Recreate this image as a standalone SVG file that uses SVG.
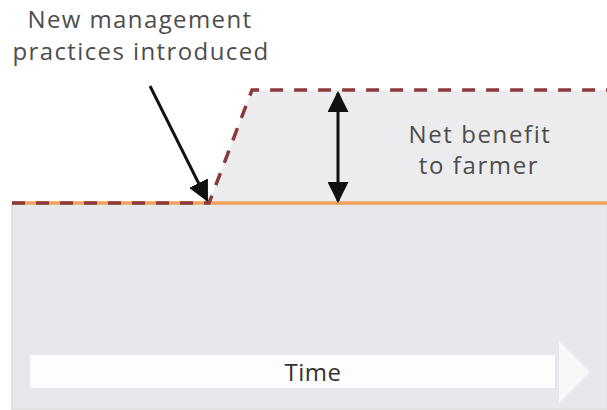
<svg xmlns="http://www.w3.org/2000/svg" width="607" height="410" viewBox="0 0 607 410">
<defs>
<style>
.lbl{font-family:"Open Sans","Liberation Sans",sans-serif;font-size:24px;fill:#4d4d4d;text-anchor:middle;letter-spacing:1.4px}
.blk{stroke:#111;stroke-width:3;fill:none}
</style>
<marker id="ah" viewBox="0 0 10 10" refX="9" refY="5" markerWidth="7" markerHeight="7" orient="auto-start-reverse"><path d="M0,0L10,5L0,10z" fill="#111"/></marker>
</defs>
<rect width="607" height="410" fill="#fff"/>
<g id="base"><rect x="12" y="204" width="595" height="205" fill="#e8e8ec" stroke="#e2e2e4" stroke-width="2"/></g>
<g id="benefit-area"><polygon points="209,204 252,90 607,90 607,204" fill="#ececee"/></g>
<g id="time-arrow">
<rect x="30" y="355" width="525" height="33" fill="#fdfdfd"/>
<polygon points="559,341 590,372 559,403" fill="#f7f7f7"/>
<text class="lbl" x="313" y="381" style="fill:#333;letter-spacing:0.5px">Time</text>
</g>
<g id="connectors">
<line x1="12" y1="203" x2="607" y2="203" stroke="#f0a35e" stroke-width="3.5"/>
<polyline points="12,203 209,203 252,90 607,90" fill="none" stroke="#8a3a3a" stroke-width="3.5" stroke-dasharray="13,11"/>
<line class="blk" x1="150" y1="86" x2="207" y2="200" marker-end="url(#ah)"/>
<line class="blk" x1="338" y1="93" x2="338" y2="201" marker-start="url(#ah)" marker-end="url(#ah)"/>
</g>
<g id="label-new"><text class="lbl" x="140" y="28">New management</text><text class="lbl" x="141" y="60">practices introduced</text></g>
<g id="label-net"><text class="lbl" x="480" y="143" style="letter-spacing:1.6px">Net benefit</text><text class="lbl" x="479" y="174" style="letter-spacing:1.6px">to farmer</text></g>
</svg>
